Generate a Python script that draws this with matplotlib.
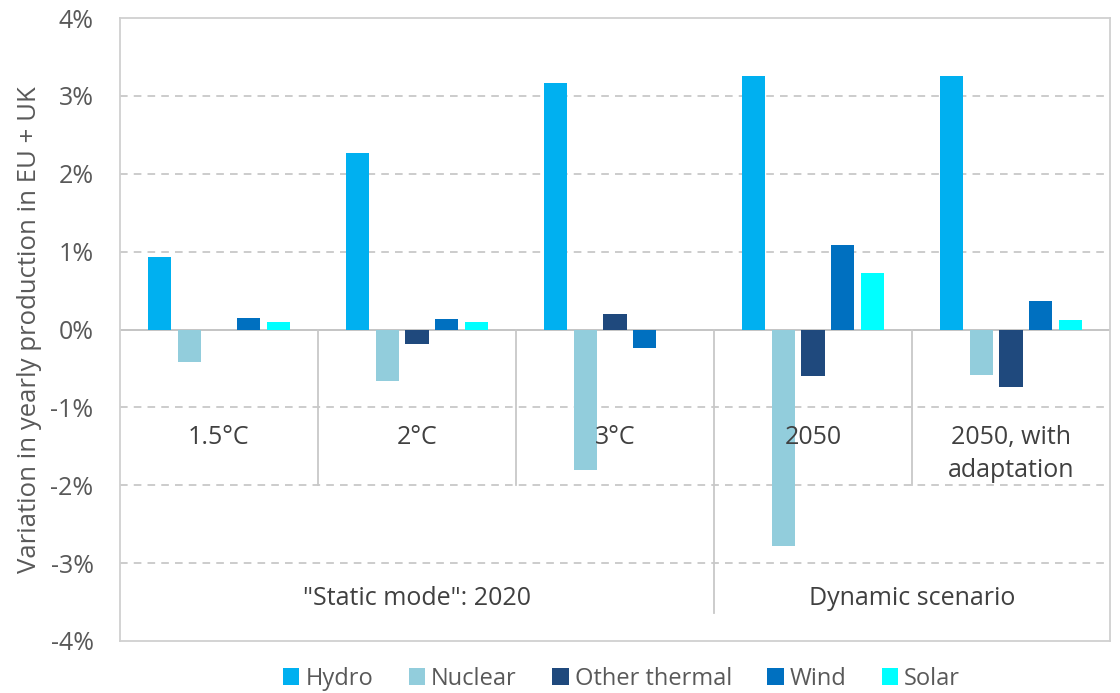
import matplotlib
matplotlib.use("Agg")
import matplotlib.pyplot as plt
import numpy as np

categories = ["1.5°C", "2°C", "3°C", "2050", "2050, with\nadaptation"]
groups = ['"Static mode": 2020', "Dynamic scenario"]
group_sizes = [3, 2]
series = ["Hydro", "Nuclear", "Other thermal", "Wind", "Solar"]
hydro = [0.93, 2.27, 3.17, 3.26, 3.26]
nuclear = [-0.42, -0.66, -1.81, -2.78, -0.58]
other_thermal = [0.0, -0.18, 0.20, -0.60, -0.74]
wind = [0.15, 0.14, -0.24, 1.08, 0.37]
solar = [0.10, 0.10, 0.0, 0.73, 0.12]
colors = ["#00B0F0", "#92CDDC", "#1F497D", "#0070C0", "#00FFFF"]
yticks = [-4, -3, -2, -1, 0, 1, 2, 3, 4]

plt.rcParams['font.family'] = ['Open Sans', 'DejaVu Sans']
fig = plt.figure(figsize=(11.2, 6.93), dpi=100)
ax = fig.add_axes([120/1120, 52/693, 990/1120, 623/693])

data = [hydro, nuclear, other_thermal, wind, solar]
x = np.arange(len(categories))
step = 0.15
width = 0.117
for i, (name, vals, c) in enumerate(zip(series, data, colors)):
    ax.bar(x + (i - 2) * step, vals, width=width, color=c, label=name, zorder=3)

ax.set_xlim(-0.5, len(categories) - 0.5)
ax.set_ylim(-4, 4)
ax.set_yticks(yticks)
ax.set_yticklabels([f"{v}%" for v in yticks])
ax.set_xticks([])
ax.tick_params(axis='y', length=0, labelsize=18, labelcolor="#595959", pad=19)
for v in yticks:
    if v not in (-4, 0, 4):
        ax.axhline(v, color="#BFBFBF", lw=1.1, ls=(0, (5, 4)), zorder=1)
ax.axhline(0, color="#BFBFBF", lw=1.3, zorder=2)
for s in ax.spines.values():
    s.set_color("#D0D0D0")
    s.set_linewidth(1.3)

# category separators
boundaries = np.cumsum(group_sizes)[:-1]
for k in range(1, len(categories)):
    if k in boundaries:
        ax.plot([k - 0.5, k - 0.5], [0, -3.64], color="#C8C8C8", lw=1.3, zorder=2)
    else:
        ax.plot([k - 0.5, k - 0.5], [0, -2.0], color="#C8C8C8", lw=1.3, zorder=2)

for i, cat in enumerate(categories):
    ax.text(i, -1.39 if "\n" not in cat else -1.6, cat, ha="center", va="center",
            fontsize=18, color="#404040", linespacing=1.45, zorder=4)

start = 0
for g, n in zip(groups, group_sizes):
    ax.text(start + (n - 1) / 2, -3.45, g, ha="center", va="center",
            fontsize=18, color="#404040", zorder=4)
    start += n

ax.set_ylabel("Variation in yearly production in EU + UK", fontsize=18.5,
              color="#595959", labelpad=6)

leg = fig.legend(loc="center", bbox_to_anchor=(0.555, 14/693), ncol=5,
                 frameon=False, fontsize=17, handlelength=0.7, handleheight=0.7,
                 handletextpad=0.25, columnspacing=1.5)
for t in leg.get_texts():
    t.set_color("#595959")

fig.savefig("out.png", dpi=100)
